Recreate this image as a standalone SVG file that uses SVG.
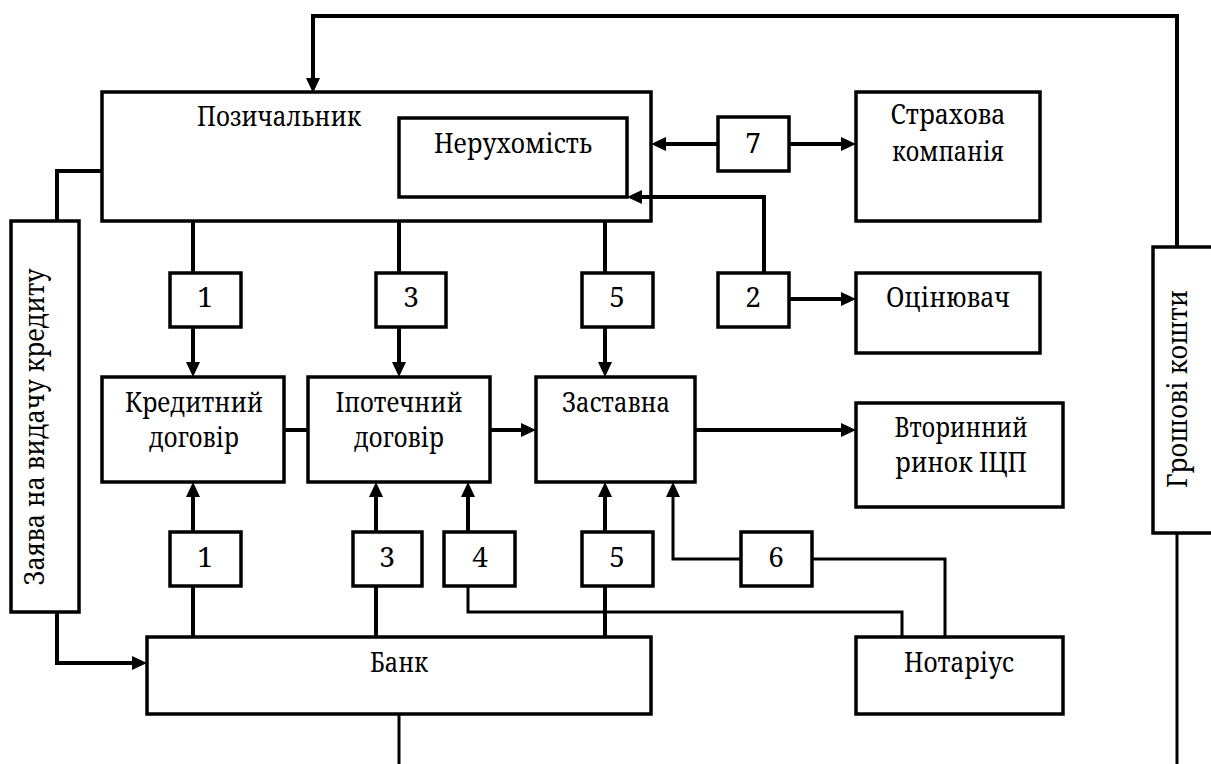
<svg xmlns="http://www.w3.org/2000/svg" width="1211" height="764" viewBox="0 0 1211 764">
<style>
.box{fill:#fff;stroke:#000;stroke-width:3.5}
.t{font-family:'Noto Serif','DejaVu Serif','Liberation Serif',serif;font-size:28px;fill:#000;text-anchor:middle}
.ln{fill:none;stroke:#000;stroke-width:4;stroke-linejoin:miter}
.thin{fill:none;stroke:#000;stroke-width:3;stroke-linejoin:miter}
</style>
<defs>
<marker id="ah" markerUnits="userSpaceOnUse" markerWidth="16" markerHeight="16" refX="11" refY="7" orient="auto">
<path d="M0,0 L15,7 L0,14 z" fill="#000"/>
</marker>
</defs>
<rect width="1211" height="764" fill="#fff"/>
<g id="pozychalnyk">
<rect class="box" x="102" y="92" width="549" height="129"/>
<text class="t" x="279" y="126" textLength="164" lengthAdjust="spacingAndGlyphs">Позичальник</text>
</g>
<g id="nerukhomist">
<rect class="box" x="399" y="118" width="228" height="79"/>
<text class="t" x="513" y="153" textLength="158" lengthAdjust="spacingAndGlyphs">Нерухомість</text>
</g>
<g id="n7">
<rect class="box" x="718" y="117" width="71" height="54"/>
<text class="t" x="753" y="153">7</text>
</g>
<g id="strakhova">
<rect class="box" x="856" y="92" width="184" height="129"/>
<text class="t" x="948" y="124" textLength="115" lengthAdjust="spacingAndGlyphs">Страхова</text>
<text class="t" x="948" y="161" textLength="112" lengthAdjust="spacingAndGlyphs">компанія</text>
</g>
<g id="zaiava">
<rect class="box" x="11" y="221" width="68" height="391"/>
<text class="t" transform="translate(44,427) rotate(-90)" textLength="317" lengthAdjust="spacingAndGlyphs">Заява на видачу кредиту</text>
</g>
<g id="hroshovi">
<rect class="box" x="1153" y="247" width="70" height="286"/>
<text class="t" transform="translate(1187,389) rotate(-90)" textLength="198" lengthAdjust="spacingAndGlyphs">Грошові кошти</text>
</g>
<g id="n1top">
<rect class="box" x="170" y="273" width="71" height="54"/>
<text class="t" x="205" y="307">1</text>
</g>
<g id="n3top">
<rect class="box" x="376" y="273" width="70" height="54"/>
<text class="t" x="411" y="307">3</text>
</g>
<g id="n5top">
<rect class="box" x="582" y="273" width="71" height="54"/>
<text class="t" x="617" y="307">5</text>
</g>
<g id="n2">
<rect class="box" x="718" y="273" width="71" height="54"/>
<text class="t" x="753" y="307">2</text>
</g>
<g id="otsiniuvach">
<rect class="box" x="856" y="273" width="184" height="80"/>
<text class="t" x="948" y="307" textLength="124" lengthAdjust="spacingAndGlyphs">Оцінювач</text>
</g>
<g id="kredytnyi">
<rect class="box" x="102" y="377" width="182" height="105"/>
<text class="t" x="194" y="412" textLength="138" lengthAdjust="spacingAndGlyphs">Кредитний</text>
<text class="t" x="194" y="447" textLength="90" lengthAdjust="spacingAndGlyphs">договір</text>
</g>
<g id="ipotechnyi">
<rect class="box" x="308" y="377" width="182" height="105"/>
<text class="t" x="399" y="412" textLength="127" lengthAdjust="spacingAndGlyphs">Іпотечний</text>
<text class="t" x="399" y="447" textLength="90" lengthAdjust="spacingAndGlyphs">договір</text>
</g>
<g id="zastavna">
<rect class="box" x="536" y="377" width="159" height="105"/>
<text class="t" x="616" y="412" textLength="108" lengthAdjust="spacingAndGlyphs">Заставна</text>
</g>
<g id="vtorynnyi">
<rect class="box" x="856" y="403" width="207" height="104"/>
<text class="t" x="961" y="437" textLength="133" lengthAdjust="spacingAndGlyphs">Вторинний</text>
<text class="t" x="961" y="472" textLength="132" lengthAdjust="spacingAndGlyphs">ринок ІЦП</text>
</g>
<g id="n1bot">
<rect class="box" x="170" y="532" width="71" height="54"/>
<text class="t" x="205" y="567">1</text>
</g>
<g id="n3bot">
<rect class="box" x="353" y="532" width="69" height="54"/>
<text class="t" x="387" y="567">3</text>
</g>
<g id="n4">
<rect class="box" x="444" y="532" width="71" height="54"/>
<text class="t" x="480" y="567">4</text>
</g>
<g id="n5bot">
<rect class="box" x="582" y="532" width="71" height="54"/>
<text class="t" x="617" y="567">5</text>
</g>
<g id="n6">
<rect class="box" x="741" y="532" width="71" height="54"/>
<text class="t" x="776" y="567">6</text>
</g>
<g id="bank">
<rect class="box" x="147" y="637" width="504" height="77"/>
<text class="t" x="399" y="672" textLength="58" lengthAdjust="spacingAndGlyphs">Банк</text>
</g>
<g id="notarius">
<rect class="box" x="856" y="637" width="207" height="77"/>
<text class="t" x="959" y="672" textLength="110" lengthAdjust="spacingAndGlyphs">Нотаріус</text>
</g>
<g id="connectors">
<path class="ln" d="M1177,247 V16 H313 V89" marker-end="url(#ah)"/>
<path class="ln" d="M102,171 H57 V221"/>
<path class="ln" d="M57,612 V663 H143" marker-end="url(#ah)"/>
<path class="ln" d="M718,144 H655" marker-end="url(#ah)"/>
<path class="ln" d="M789,144 H852" marker-end="url(#ah)"/>
<path class="ln" d="M764,273 V197 H631" marker-end="url(#ah)"/>
<path class="ln" d="M789,299 H852" marker-end="url(#ah)"/>
<path class="ln" d="M193,221 V273"/>
<path class="ln" d="M193,327 V373" marker-end="url(#ah)"/>
<path class="ln" d="M399,221 V273"/>
<path class="ln" d="M399,327 V373" marker-end="url(#ah)"/>
<path class="ln" d="M605,221 V273"/>
<path class="ln" d="M605,327 V373" marker-end="url(#ah)"/>
<path class="ln" d="M284,430 H308"/>
<path class="ln" d="M490,430 H532" marker-end="url(#ah)"/>
<path class="ln" d="M695,430 H852" marker-end="url(#ah)"/>
<path class="ln" d="M193,637 V586"/>
<path class="ln" d="M193,532 V486" marker-end="url(#ah)"/>
<path class="ln" d="M376,637 V586"/>
<path class="ln" d="M376,532 V486" marker-end="url(#ah)"/>
<path class="ln" d="M468,532 V486" marker-end="url(#ah)"/>
<path class="thin" d="M468,586 V612 H902 V637"/>
<path class="ln" d="M605,637 V586"/>
<path class="ln" d="M605,532 V486" marker-end="url(#ah)"/>
<path class="thin" d="M741,559 H673 V490"/>
<path class="ln" d="M673,492 V486" marker-end="url(#ah)"/>
<path class="thin" d="M812,559 H945 V637"/>
<path class="thin" d="M399,714 V764"/>
<path class="thin" d="M1177,533 V764"/>
</g>
</svg>
